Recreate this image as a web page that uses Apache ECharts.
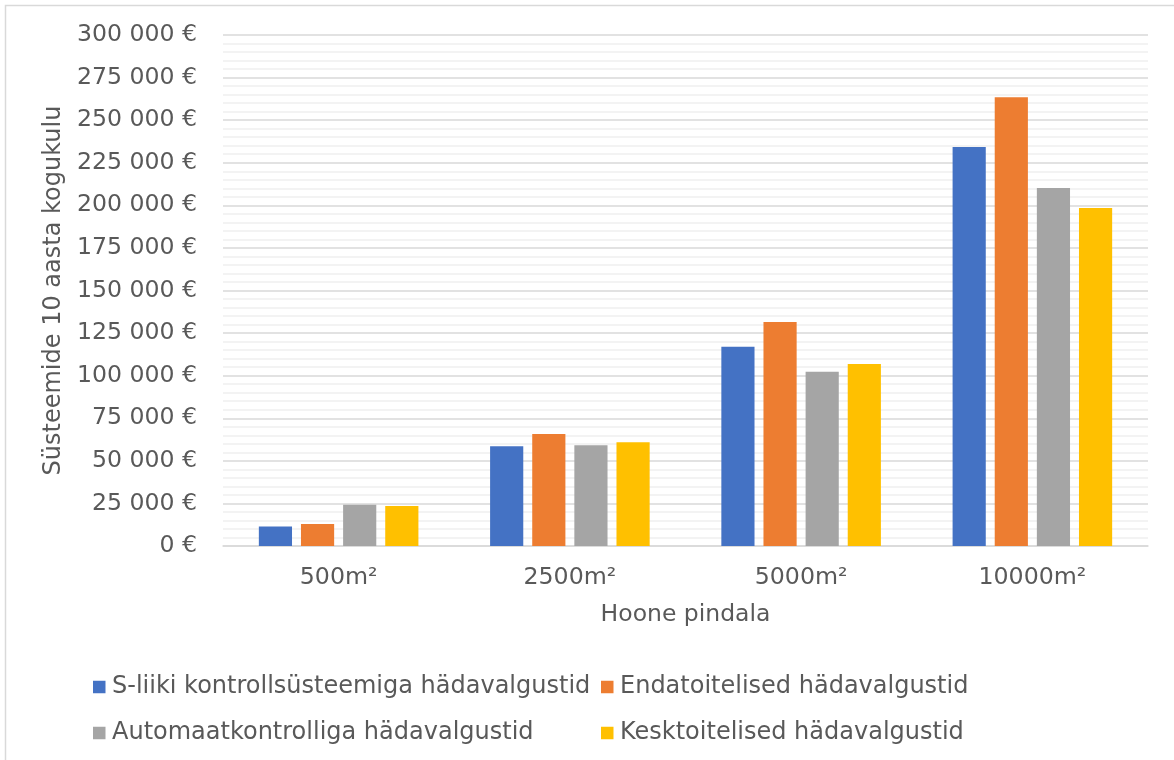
<!DOCTYPE html>
<html>
<head>
<meta charset="utf-8">
<script src="https://cdn.jsdelivr.net/npm/echarts@6/dist/echarts.min.js"></script>
<style>
  html, body { margin: 0; padding: 0; background: #ffffff; }
  #chart { width: 1174px; height: 760px; }
</style>
</head>
<body>
<div id="chart"></div>
<script>
// Building floor areas
const categories = ['500m²', '2500m²', '5000m²', '10000m²'];

// 10-year total cost per emergency lighting system (EUR)
const sLiiki = [11400, 58600, 117000, 234200];
const endatoitelised = [12900, 65700, 131500, 263400];
const automaat = [24200, 59200, 102300, 210200];
const kesktoitelised = [23500, 60900, 106800, 198400];

const seriesNames = [
  'S-liiki kontrollsüsteemiga hädavalgustid',
  'Endatoitelised hädavalgustid',
  'Automaatkontrolliga hädavalgustid',
  'Kesktoitelised hädavalgustid'
];
const colors = ['#4472C4', '#ED7D31', '#A5A5A5', '#FFC000'];
const seriesData = [sLiiki, endatoitelised, automaat, kesktoitelised];

const FONT = '"DejaVu Sans", Verdana, sans-serif';
const TEXT = '#595959';

function euro(v) {
  return String(v).replace(/\B(?=(\d{3})+(?!\d))/g, ' ') + ' €';
}

const chart = echarts.init(document.getElementById('chart'), null, { renderer: 'canvas' });

// Two vertical legends laid side by side form a 2x2 legend grid
const legendText = { fontFamily: FONT, fontSize: 24, color: TEXT, padding: [0, 0, 0, 1.5] };
const legendBase = {
  orient: 'vertical',
  top: 670,
  itemWidth: 12.5, itemHeight: 12.5, itemGap: 22,
  icon: 'rect',
  textStyle: legendText
};

chart.setOption({
  backgroundColor: '#ffffff',
  animation: false,
  textStyle: { fontFamily: FONT, color: TEXT },
  graphic: [{
    type: 'rect',
    shape: { x: 5.5, y: 5.5, width: 1200, height: 800 },
    style: { fill: 'none', stroke: '#d9d9d9', lineWidth: 1.5 },
    silent: true,
    z: -1
  }],
  grid: { left: 223, right: 26, top: 35, bottom: 214 },
  legend: [
    Object.assign({ data: [seriesNames[0], seriesNames[2]], left: 88 }, legendBase),
    Object.assign({ data: [seriesNames[1], seriesNames[3]], left: 596 }, legendBase)
  ],
  xAxis: {
    type: 'category',
    data: categories,
    name: 'Hoone pindala',
    nameLocation: 'middle',
    nameGap: 57,
    nameTextStyle: { fontFamily: FONT, fontSize: 23.5, color: TEXT, verticalAlign: 'top' },
    axisLine: { show: true, lineStyle: { color: '#d9d9d9', width: 1.5 } },
    axisTick: { show: false },
    axisLabel: { fontFamily: FONT, fontSize: 23.7, color: TEXT, margin: 20 }
  },
  yAxis: {
    type: 'value',
    min: 0, max: 300000, interval: 25000,
    name: 'Süsteemide 10 aasta kogukulu',
    nameLocation: 'middle',
    nameGap: 153,
    nameTextStyle: { fontFamily: FONT, fontSize: 24, color: TEXT },
    axisLine: { show: false },
    axisTick: { show: false },
    axisLabel: { fontFamily: FONT, fontSize: 23.6, color: TEXT, margin: 26, formatter: euro },
    splitLine: { show: true, lineStyle: { color: '#d9d9d9', width: 1.5 } },
    minorTick: { show: false, splitNumber: 5 },
    minorSplitLine: { show: true, lineStyle: { color: '#f0f0f0', width: 1.5 } }
  },
  series: seriesData.map((d, i) => ({
    name: seriesNames[i],
    type: 'bar',
    data: d,
    itemStyle: { color: colors[i] },
    barGap: '27%',
    barCategoryGap: '31%'
  }))
});
</script>
</body>
</html>
